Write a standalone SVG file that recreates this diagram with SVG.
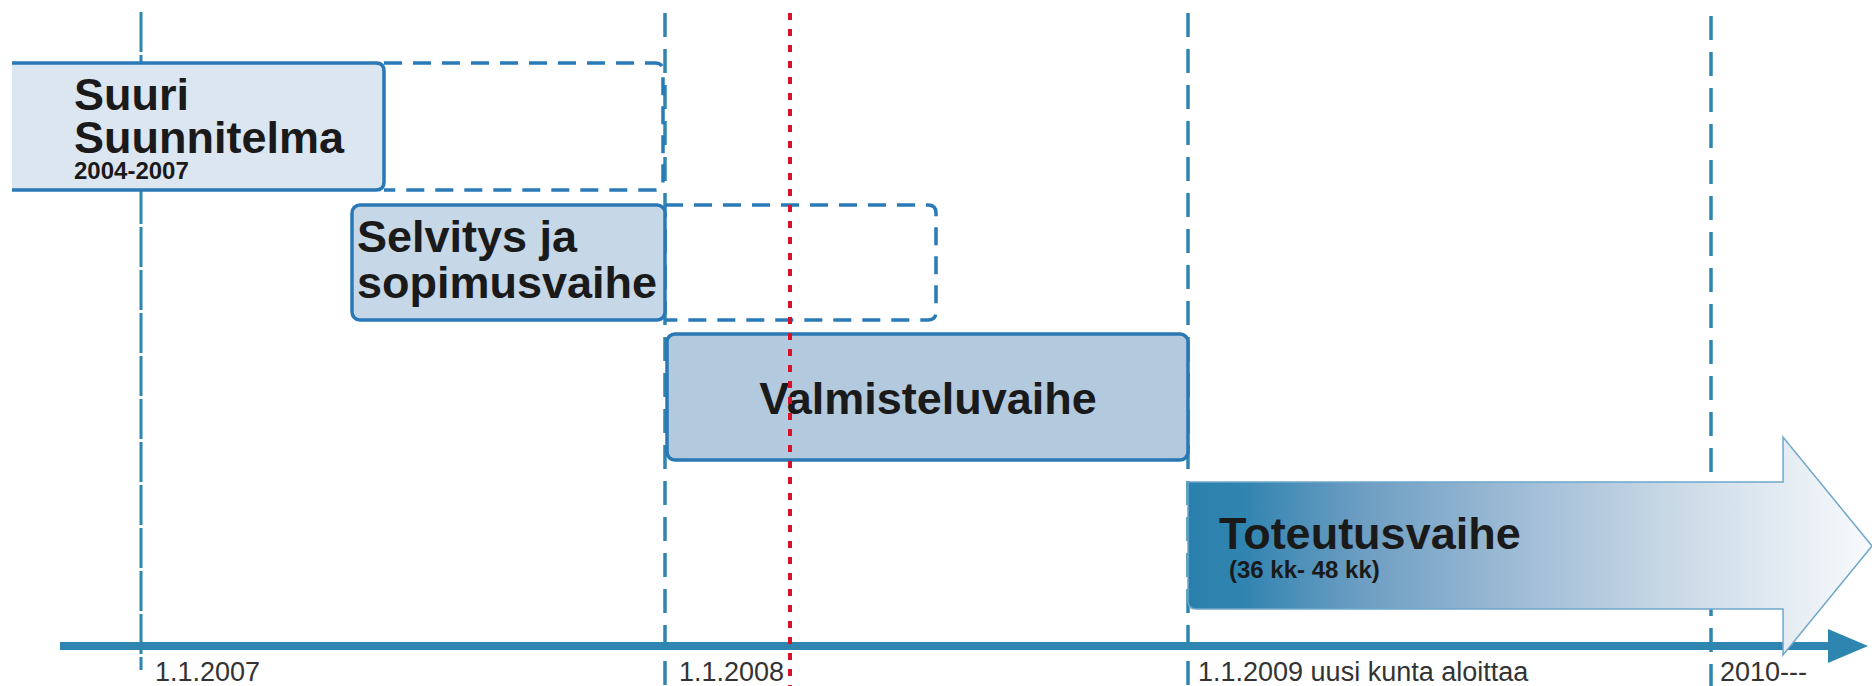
<svg xmlns="http://www.w3.org/2000/svg" width="1872" height="686" viewBox="0 0 1872 686">
<style>
.bold{font-family:"Liberation Sans",Arial,sans-serif;font-weight:bold;fill:#1a1a1a}
.big{font-size:45px}
.lbl{font-family:"Liberation Sans",Arial,sans-serif;font-size:27px;fill:#333}
.vline{stroke:#2e86b0;stroke-width:3.5;stroke-dasharray:24 12;fill:none}
.box{stroke:#2a78b5;stroke-width:3.5}
.ext{fill:none;stroke:#2a7ab8;stroke-width:3.5;stroke-dasharray:18 11}
</style>
<defs>
<linearGradient id="tg" x1="1188" y1="0" x2="1872" y2="0" gradientUnits="userSpaceOnUse">
<stop offset="0" stop-color="#2a80ac"/>
<stop offset="0.08" stop-color="#3084b0"/>
<stop offset="0.25" stop-color="#6c9dc2"/>
<stop offset="0.5" stop-color="#a2bed7"/>
<stop offset="0.75" stop-color="#d0dee9"/>
<stop offset="1" stop-color="#f8fafc"/>
</linearGradient>
<marker id="ah" markerUnits="userSpaceOnUse" markerWidth="42" markerHeight="36" refX="0" refY="17" orient="auto">
<polygon points="0,0 40,17 0,34" fill="#2e86b0"/>
</marker>
</defs>
<rect width="1872" height="686" fill="#fff"/>
<g id="connectors">
<line x1="60" y1="646" x2="1828" y2="646" stroke="#2e86b0" stroke-width="8" marker-end="url(#ah)"/>
<line class="vline" x1="141" y1="12" x2="141" y2="670" style="stroke-dasharray:40 3;stroke-width:3"/>
<line class="vline" x1="665" y1="13" x2="665" y2="686"/>
<line class="vline" x1="1188" y1="13" x2="1188" y2="686"/>
<line class="vline" x1="1711" y1="16" x2="1711" y2="686"/>
</g>
<g id="suuri">
<path class="ext" d="M384,63 H655 Q663,63 663,71 V182 Q663,190 655,190 H384"/>
<path class="box" fill="#dce6f0" d="M12,63 H376 Q384,63 384,71 V182 Q384,190 376,190 H12"/>
<text class="bold big" x="74" y="110">Suuri</text>
<text class="bold big" x="74" y="153">Suunnitelma</text>
<text class="bold" x="74" y="179" font-size="24">2004-2007</text>
</g>
<g id="selvitys">
<path class="ext" d="M665,205 H928 Q936,205 936,213 V312 Q936,320 928,320 H665"/>
<rect class="box" fill="#c6d7e7" x="352" y="205" width="313" height="115" rx="8"/>
<text class="bold big" x="357" y="252">Selvitys ja</text>
<text class="bold big" x="357" y="298">sopimusvaihe</text>
</g>
<g id="valmistelu">
<rect class="box" fill="#b3c9de" x="667" y="334" width="521" height="126" rx="8"/>
<text class="bold big" x="928" y="414" text-anchor="middle">Valmisteluvaihe</text>
</g>
<g id="toteutus">
<path d="M1188,482 H1783 V437 L1872,546 L1783,655 V609 H1196 Q1188,609 1188,601 Z" fill="url(#tg)" stroke="#6fa6cb" stroke-width="1.5"/>
<text class="bold big" x="1219" y="549">Toteutusvaihe</text>
<text class="bold" x="1229" y="578" font-size="24">(36 kk- 48 kk)</text>
</g>
<g id="today">
<line x1="790" y1="13" x2="790" y2="686" stroke="#d8102a" stroke-width="4" stroke-dasharray="7 9"/>
</g>
<g id="labels">
<text class="lbl" x="155" y="681">1.1.2007</text>
<text class="lbl" x="679" y="681">1.1.2008</text>
<text class="lbl" x="1198" y="681">1.1.2009 uusi kunta aloittaa</text>
<text class="lbl" x="1720" y="681">2010---</text>
</g>
</svg>
